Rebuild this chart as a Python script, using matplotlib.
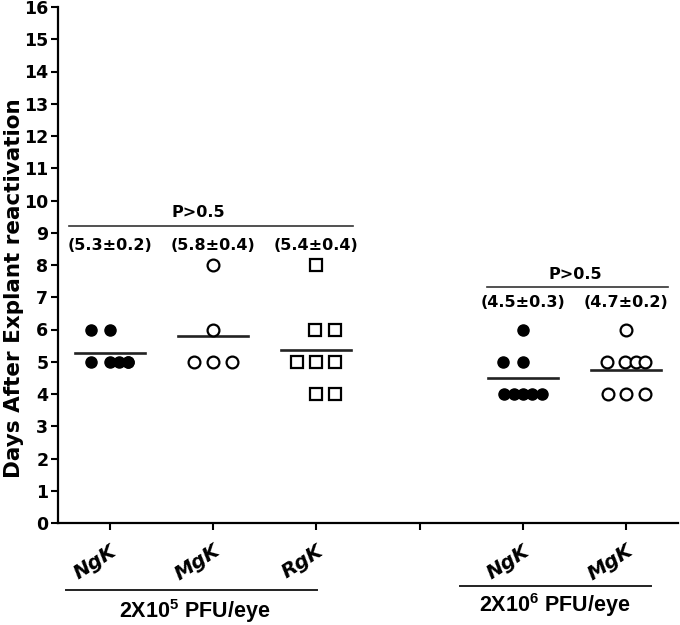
import numpy as np
import matplotlib
matplotlib.use('Agg')
import matplotlib.pyplot as plt
from matplotlib.font_manager import FontProperties

# days to explant reactivation, per eye
ngk_lo = [6, 6, 5, 5, 5, 5, 5]
mgk_lo = [8, 6, 5, 5, 5]
rgk_lo = [8, 6, 6, 5, 5, 5, 4, 4]
ngk_hi = [6, 5, 5, 4, 4, 4, 4, 4]
mgk_hi = [6, 5, 5, 5, 5, 4, 4, 4]

groups = [ngk_lo, mgk_lo, rgk_lo, ngk_hi, mgk_hi]
group_names = ['NgK', 'MgK', 'RgK', 'NgK', 'MgK']
summary = ['(5.3\u00b10.2)', '(5.8\u00b10.4)', '(5.4\u00b10.4)',
           '(4.5\u00b10.3)', '(4.7\u00b10.2)']
dose_labels = [r'2X10$^{\mathbf{5}}$ PFU/eye', r'2X10$^{\mathbf{6}}$ PFU/eye']
p_text = ['P>0.5', 'P>0.5']

# layout only
xpos = [1, 2, 3, 5, 6]
jitter = [
    [-0.18, 0.0, -0.18, 0.0, 0.09, 0.18, 0.18],
    [0.0, 0.0, -0.18, 0.0, 0.18],
    [0.0, -0.01, 0.18, -0.19, 0.0, 0.18, 0.0, 0.18],
    [0.0, -0.19, 0.0, -0.18, -0.09, 0.0, 0.09, 0.18],
    [0.0, -0.19, -0.01, 0.09, 0.18, -0.18, 0.0, 0.18],
]
styles = [
    dict(marker='o', mfc='black', mec='black', ms=8),
    dict(marker='o', mfc='white', mec='black', ms=8.5, mew=1.6),
    dict(marker='s', mfc='white', mec='black', ms=8, mew=1.6),
    dict(marker='o', mfc='black', mec='black', ms=8),
    dict(marker='o', mfc='white', mec='black', ms=8.5, mew=1.6),
]

plt.rcParams['mathtext.fontset'] = 'custom'
plt.rcParams['mathtext.rm'] = 'Liberation Sans:bold'
plt.rcParams['mathtext.bf'] = 'Liberation Sans:bold'

fig = plt.figure(figsize=(6.8, 6.25), dpi=100)
ax = fig.add_axes([0.0853, 0.1632, 0.9118, 0.8256])

for x, vals, off, st in zip(xpos, groups, jitter, styles):
    xs = np.array(off) + x
    ax.plot(xs, vals, ls='', zorder=3, clip_on=False, **st)
    m = np.mean(vals)
    ax.plot([x - 0.34, x + 0.34], [m, m], color='#222222', lw=1.9, zorder=2)

for x, s, y in zip(xpos, summary, [8.62, 8.62, 8.62, 6.85, 6.85]):
    ax.text(x, y, s, ha='center', va='center', fontsize=11.5, fontweight='bold')

# p-value bars
ax.plot([0.61, 3.35], [9.21, 9.21], color='#333333', lw=1.2)
ax.text(1.86, 9.64, p_text[0], ha='center', va='center', fontsize=11.5, fontweight='bold')
ax.plot([4.65, 6.40], [7.32, 7.32], color='#333333', lw=1.2)
ax.text(5.51, 7.69, p_text[1], ha='center', va='center', fontsize=11.5, fontweight='bold')

ax.set_xlim(0.5, 6.5)
ax.set_ylim(0, 16)
ax.set_yticks(range(0, 17))
ax.set_yticklabels([str(v) for v in range(0, 17)], fontsize=12.5, fontweight='bold')
ax.set_xticks([1, 2, 3, 4, 5, 6])
lab_font = FontProperties(family='DejaVu Sans', weight='bold', style='oblique', size=14.5)
ax.set_xticklabels(group_names[:3] + [''] + group_names[3:], rotation=33,
                   ha='right', va='top', rotation_mode='anchor',
                   fontproperties=lab_font)
ax.tick_params(axis='x', pad=8, length=5, width=1.5)
ax.tick_params(axis='y', pad=2, length=5, width=1.5)
for side in ['top', 'right']:
    ax.spines[side].set_visible(False)
for side in ['left', 'bottom']:
    ax.spines[side].set_linewidth(1.6)

# dose group brackets under the tick labels
xt = ax.get_xaxis_transform()
ax.plot([0.58, 3.01], [-0.130, -0.130], color='#222222', lw=1.4,
        transform=xt, clip_on=False)
ax.plot([4.39, 6.24], [-0.122, -0.122], color='#222222', lw=1.4,
        transform=xt, clip_on=False)
ax.text(1.82, -0.171, dose_labels[0], transform=xt, ha='center', va='center',
        fontsize=15.5, fontweight='bold', family='Liberation Sans')
ax.text(5.31, -0.159, dose_labels[1], transform=xt, ha='center', va='center',
        fontsize=15.5, fontweight='bold', family='Liberation Sans')

fig.text(0.0206, 0.539, 'Days After Explant reactivation', rotation=90,
         ha='center', va='center', fontsize=15.5, fontweight='bold')

fig.savefig('out.png', dpi=100)
